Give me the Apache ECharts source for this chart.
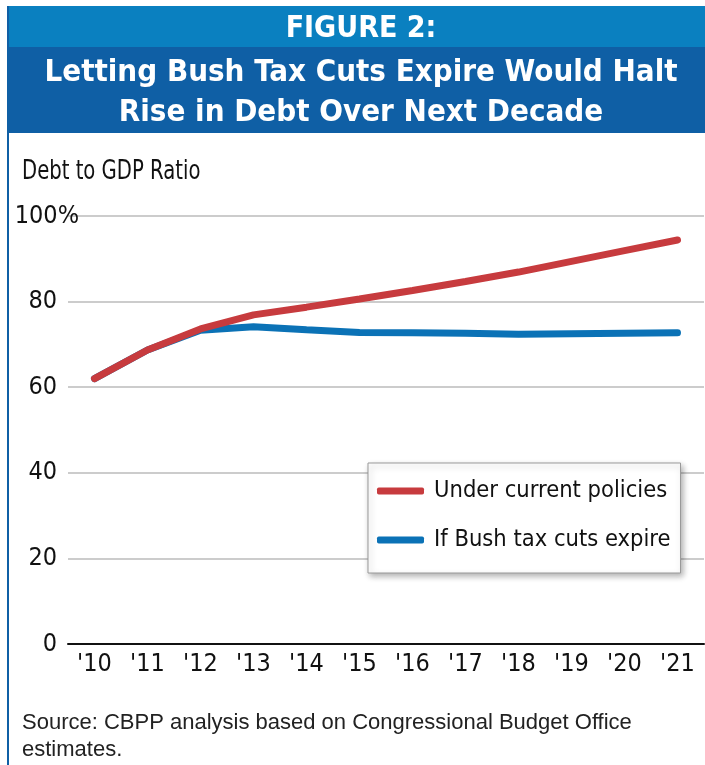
<!DOCTYPE html>
<html>
<head>
<meta charset="utf-8">
<script src="https://cdn.jsdelivr.net/npm/echarts@6/dist/echarts.min.js"></script>
<style>
  html, body { margin: 0; padding: 0; background: #fff; }
  #chart { width: 705px; height: 765px; }
</style>
</head>
<body>
<div id="chart"></div>
<script>
// 数据：债务占 GDP 比例
const years = ["'10", "'11", "'12", "'13", "'14", "'15", "'16", "'17", "'18", "'19", "'20", "'21"];
const currentPolicies = [62.0, 68.7, 73.6, 76.9, 78.7, 80.6, 82.6, 84.7, 86.9, 89.4, 91.9, 94.4];
const taxCutsExpire = [62.0, 68.7, 73.3, 74.1, 73.4, 72.8, 72.7, 72.6, 72.4, 72.5, 72.6, 72.7];
const yTicks = [0, 20, 40, 60, 80, 100];

const condFont = '"DejaVu Sans Condensed", "Liberation Sans Narrow", sans-serif';
const RED = '#c73b3e';
const BLUE = '#0b72b6';

const chart = echarts.init(document.getElementById('chart'));
chart.setOption({
  animation: false,
  graphic: [
    { type: 'rect', shape: { x: 7, y: 6, width: 698, height: 42 }, style: { fill: '#0a80c0' } },
    { type: 'rect', shape: { x: 7, y: 47, width: 698, height: 86 }, style: { fill: '#0f5fa5' } },
    { type: 'rect', shape: { x: 7, y: 6, width: 2, height: 759 }, style: { fill: '#0f5fa5' } },
    { type: 'text', x: 361, y: 29, style: { text: 'FIGURE 2:', fill: '#fff', font: 'bold 30px ' + condFont, align: 'center', verticalAlign: 'middle' } },
    { type: 'text', x: 361, y: 93, style: { text: 'Letting Bush Tax Cuts Expire Would Halt\nRise in Debt Over Next Decade', fill: '#fff', font: 'bold 31px ' + condFont, align: 'center', verticalAlign: 'middle', lineHeight: 40 } },
    { type: 'text', x: 22, y: 172, scaleX: 0.84, style: { text: 'Debt to GDP Ratio', fill: '#111', font: '26px ' + condFont, verticalAlign: 'middle' } },
    { type: 'text', x: 22, y: 736, style: { text: 'Source: CBPP analysis based on Congressional Budget Office\nestimates.', fill: '#222', font: '22px "Liberation Sans", Arial, sans-serif', verticalAlign: 'middle', lineHeight: 27 } }
  ],
  legend: {
    orient: 'vertical',
    left: 368,
    top: 463,
    padding: [13, 10, 18, 9],
    itemGap: 19,
    itemWidth: 47,
    itemHeight: 7,
    icon: 'roundRect',
    backgroundColor: '#fff',
    borderColor: '#999',
    borderWidth: 1,
    shadowColor: 'rgba(0,0,0,0.3)',
    shadowBlur: 6,
    shadowOffsetX: 2,
    shadowOffsetY: 3,
    textStyle: { fontFamily: condFont, fontSize: 23.5, lineHeight: 30, color: '#111', padding: [0, 0, 0, 5] }
  },
  grid: { left: 68, right: 1, top: 216, bottom: 121, containLabel: false },
  xAxis: {
    type: 'category',
    data: years,
    boundaryGap: true,
    axisLine: { lineStyle: { color: '#111', width: 2 } },
    axisTick: { alignWithLabel: true, length: 12, inside: true, lineStyle: { color: '#111', width: 2 } },
    axisLabel: { fontFamily: condFont, fontSize: 25, color: '#111', margin: 8 }
  },
  yAxis: {
    type: 'value',
    min: yTicks[0],
    max: yTicks[yTicks.length - 1],
    interval: 20,
    axisLine: { show: false },
    axisTick: { show: false },
    axisLabel: {
      fontFamily: condFont, fontSize: 25, color: '#111', margin: 11,
      formatter: v => v === 100 ? '100{p|%}' : String(v),
      rich: { p: { fontFamily: condFont, fontSize: 25, color: '#111', padding: [0, -22, 0, 0] } }
    },
    splitLine: { lineStyle: { color: '#bbb', width: 1.5 } }
  },
  series: [
    {
      name: 'Under current policies',
      type: 'line',
      data: currentPolicies,
      showSymbol: false,
      z: 3,
      color: RED,
      lineStyle: { color: RED, width: 7, cap: 'round' }
    },
    {
      name: 'If Bush tax cuts expire',
      type: 'line',
      data: taxCutsExpire,
      showSymbol: false,
      z: 2,
      color: BLUE,
      lineStyle: { color: BLUE, width: 7, cap: 'round' }
    }
  ]
});
</script>
</body>
</html>
